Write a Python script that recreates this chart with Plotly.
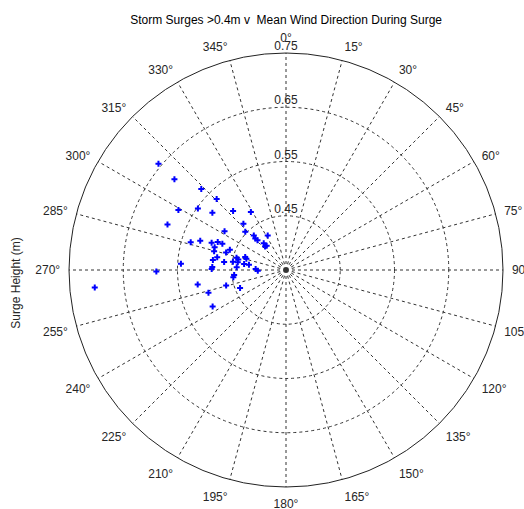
import plotly.graph_objects as go

# Mean wind direction during surge (degrees, clockwise from north)
wind_dir = [309.8, 309.1, 313.7, 315.7, 299.1, 304.9, 307.9, 318.1, 328.8, 291.0,
            317.4, 302.3, 313.2, 317.0, 332.1, 315.7, 316.3, 286.3, 288.8, 290.1,
            292.3, 292.5, 287.6, 284.7, 286.2, 289.8, 320.1, 321.3, 318.4, 280.5,
            284.0, 282.5, 287.8, 285.9, 277.8, 277.4, 278.9, 279.1, 278.2, 278.2,
            272.3, 270.8, 273.3, 271.9, 268.6, 273.4, 269.3, 264.5, 262.1, 260.6,
            255.4, 248.5, 253.6, 243.6, 264.8]
# Surge height (m)
surge_height = [0.656, 0.615, 0.566, 0.533, 0.577, 0.548, 0.522, 0.496, 0.475, 0.584,
                0.466, 0.484, 0.453, 0.437, 0.422, 0.431, 0.426, 0.533, 0.517, 0.496,
                0.486, 0.477, 0.488, 0.487, 0.465, 0.460, 0.414, 0.407, 0.408, 0.479,
                0.444, 0.440, 0.429, 0.426, 0.486, 0.465, 0.449, 0.440, 0.428, 0.419,
                0.486, 0.487, 0.441, 0.406, 0.402, 0.544, 0.589, 0.446, 0.448, 0.515,
                0.464, 0.441, 0.499, 0.501, 0.704]

angle_ticks = list(range(0, 360, 15))
angle_labels = [("90" if a == 90 else f"{a}\u00b0") for a in angle_ticks]
radial_ticks = [0.45, 0.55, 0.65, 0.75]
radial_labels = ["0.45", "0.55", "0.65", "0.75"]
radial_range = [0.35, 0.75]

FONT = "Liberation Sans, Arial, sans-serif"

fig = go.Figure()
fig.add_trace(go.Scatterpolar(
    r=surge_height, theta=wind_dir, mode="markers",
    marker=dict(symbol="cross", size=5, color="#0000ff", line=dict(width=0)),
    showlegend=False, cliponaxis=False,
))
fig.add_trace(go.Scatterpolar(
    r=radial_ticks, theta=[0] * len(radial_ticks), mode="text",
    text=radial_labels, textposition="top center",
    textfont=dict(family=FONT, size=12, color="#262626"),
    showlegend=False, hoverinfo="skip", cliponaxis=False,
))

fig.update_layout(
    width=524, height=509,
    margin=dict(l=69, r=21, t=53, b=22),
    paper_bgcolor="white",
    font=dict(family=FONT, size=11, color="#262626"),
    title=dict(text="Storm Surges >0.4m v \u00a0Mean Wind Direction During Surge",
               x=0.546, xanchor="center", y=0.962, yanchor="middle",
               font=dict(family=FONT, size=12, color="#000000")),
    polar=dict(
        bgcolor="white",
        domain=dict(x=[0, 1], y=[0, 1]),
        angularaxis=dict(
            rotation=90, direction="clockwise",
            tickmode="array", tickvals=angle_ticks, ticktext=angle_labels,
            showline=True, linecolor="#222222", linewidth=1,
            ticks="outside", ticklen=6, tickcolor="rgba(0,0,0,0)",
            showgrid=True, gridcolor="#333333", gridwidth=1, griddash="3px,3px",
            tickfont=dict(family=FONT, size=12, color="#262626"),
        ),
        radialaxis=dict(
            range=radial_range, tickmode="array", tickvals=radial_ticks,
            showticklabels=False, ticks="", showline=False, angle=90,
            showgrid=True, gridcolor="#333333", gridwidth=1, griddash="3px,3px",
        ),
    ),
    annotations=[dict(
        text="Surge Height (m)", textangle=-90, xref="paper", yref="paper",
        x=-0.123, y=0.47, xanchor="center", yanchor="middle", showarrow=False,
        font=dict(family=FONT, size=12, color="#262626"),
    )],
)

fig.write_html(
    "out.html",
    config={"displayModeBar": False},
    post_script="document.body.style.margin='0';document.body.style.overflow='hidden';",
)
